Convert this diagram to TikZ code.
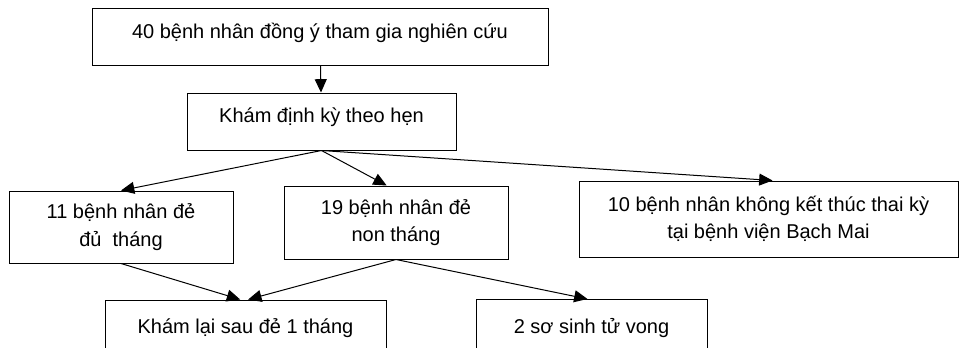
\documentclass[tikz,border=0pt]{standalone}
\usepackage{fontspec}
\setmainfont{Liberation Sans}
\usetikzlibrary{arrows.meta}

\tikzset{
  box/.style 2 args={draw, align=center, minimum width=#1*0.75pt, minimum height=#2*0.75pt, inner sep=0pt},
  up/.style={text depth=#1},
  flow/.style={-{Triangle[length=10pt,width=9pt]}, line width=0.75pt}
}

\begin{document}
\begin{tikzpicture}[x=0.75pt,y=-0.75pt,line width=0.75pt,font=\fontsize{15pt}{20.5pt}\selectfont]
\useasboundingbox (0,0) rectangle (960,347);
\clip (0,0) rectangle (960,347);

\node[box={456}{57},up=9pt] (dongy) at (320,36.5) {40 bệnh nhân đồng ý tham gia nghiên cứu};
\node[box={269}{57},up=9pt] (dinhky) at (321.5,121.5) {Khám định kỳ theo hẹn};

\node[box={224}{72}] (duthang) at (121,227) {11 bệnh nhân đẻ\\đủ\ \ tháng};
\node[box={224}{73}] (nonthang) at (396,222.5) {19 bệnh nhân đẻ\\non tháng};
\node[box={379}{76}] (ngoaivien) at (768.5,219) {10 bệnh nhân không kết thúc thai kỳ\\tại bệnh viện Bạch Mai};

\node[box={281}{57}] (khamlai) at (245.5,328.5) {Khám lại sau đẻ 1 tháng};
\node[box={231}{57}] (tuvong) at (591.5,328) {2 sơ sinh tử vong};

\draw[flow] (dongy) -- (dinhky);
\draw[flow] (dinhky.south) -- (duthang.north);
\draw[flow] (dinhky.south) -- ([xshift=-7pt]nonthang.north);
\draw[flow] (dinhky.south) -- ([xshift=3pt]ngoaivien.north);

\draw[flow] (duthang.south) -- ([xshift=-4pt]khamlai.north);
\draw[flow] (nonthang.south) -- ([xshift=2pt]khamlai.north);
\draw[flow] (nonthang.south) -- ([xshift=-3pt]tuvong.north);
\end{tikzpicture}
\end{document}
